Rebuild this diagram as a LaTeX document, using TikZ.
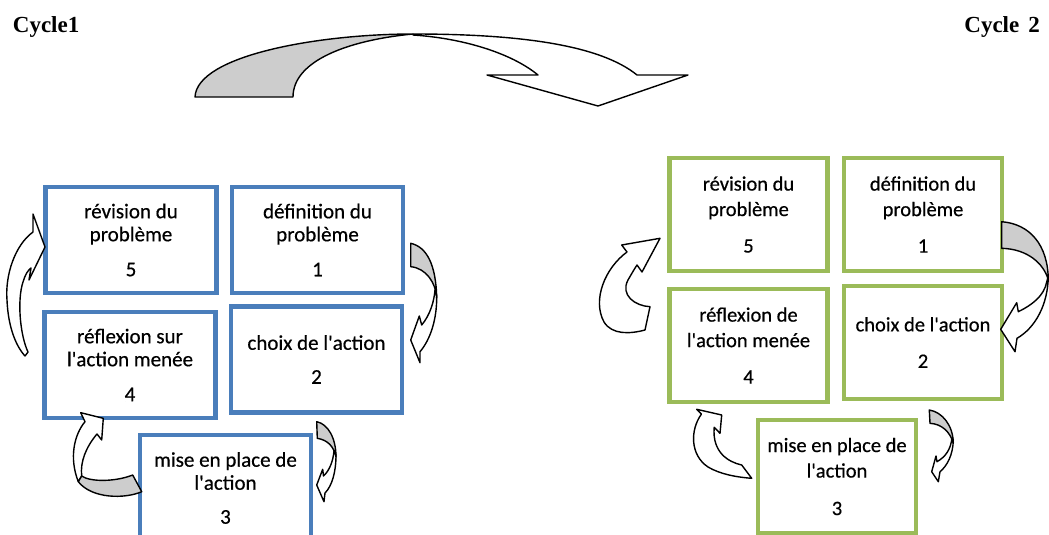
\documentclass[tikz,border=0pt]{standalone}
\usepackage{fontspec}
\setmainfont{Carlito}
\newfontfamily\boxfont{Carlito}[FakeBold=0.5]
\newfontfamily\cyclefont{Liberation Serif}
\definecolor{blueb}{RGB}{74,126,187}
\definecolor{greenb}{RGB}{155,187,89}
\definecolor{shade}{RGB}{205,205,205}
\begin{document}
\begin{tikzpicture}[x=1pt,y=-1pt,
  lbox/.style={draw=blueb, line width=4.3pt, minimum width=171pt, minimum height=106pt, inner sep=0pt, align=center, font=\boxfont\fontsize{21}{23}\selectfont},
  rbox/.style={draw=greenb, line width=4.3pt, minimum width=158pt, minimum height=113pt, inner sep=0pt, align=center, font=\boxfont\fontsize{20.5}{25.5}\selectfont},
  cyc/.style={inner sep=0pt, font=\cyclefont\bfseries\fontsize{23}{26}\selectfont},
  warrow/.style={draw=black, line width=1.4pt, line join=round, fill=white},
  sarrow/.style={warrow, fill=shade}]
\clip (0,0) rectangle (1049,535);
\fill[white] (0,0) rectangle (1049,535);

% titles
\node[cyc, anchor=base west] (c1) at (12.7,33) {Cycle1};
\node[cyc, anchor=base east] (c2) at (1040,33) {Cycle\hspace{9pt}2};

% big top arrow
\path[warrow] (413,34) .. controls (520,34) and (600,45) .. (637,75) -- (688,75) -- (598,106) -- (487,75) -- (538,75) .. controls (510,52) and (460,38) .. (413,35) -- cycle;
\path[sarrow] (195,97) .. controls (197,55) and (320,34) .. (413,34) .. controls (350,40) and (293,60) .. (293,97) -- cycle;

% left cycle boxes
\node[lbox] (l5) at (131,240) {révision du\\problème\\[12pt]5};
\node[lbox] (l1) at (317.5,240) {définition du\\problème\\[12pt]1};
\node[lbox] (l4) at (130,365) {réflexion sur\\l\textquotesingle action menée\\[12pt]4};
\node[lbox] (l2) at (316.5,359.5) {choix de l\textquotesingle action\\[11pt]2};
\node[lbox] (l3) at (225.5,488) {mise en place de\\l\textquotesingle action\\[11pt]3};

% right cycle boxes
\node[rbox] (r5) at (748.5,214.5) {révision du\\problème\\[11pt]5};
\node[rbox] (r1) at (923,214.5) {définition du\\problème\\[11pt]1};
\node[rbox] (r4) at (748.5,345.5) {réflexion de\\l\textquotesingle action menée\\[11pt]4};
\node[rbox] (r2) at (923,342.5) {choix de l\textquotesingle action\\[11pt]2};
\node[rbox] (r3) at (837,476.5) {mise en place de\\l\textquotesingle action\\[12pt]3};

% left: arrow 4 -> 5
\path[warrow] (45,247) -- (33,214) -- (33,232) .. controls (15,245) and (5,275) .. (7,300) .. controls (8,325) and (15,345) .. (25,356) -- (28,352) .. controls (20,335) and (17,300) .. (23,282) .. controls (25,275) and (28,270) .. (31,268) -- (29,280) -- cycle;
% left: arrow 1 -> 2
\path[warrow] (436.7,296) .. controls (437,320) and (430,340) .. (420,351.7) -- (420,362.7) -- (410.7,340) -- (419.3,316) -- (421.7,325) .. controls (430,315) and (434,302) .. (435,290) -- cycle;
\path[sarrow] (410.7,243.3) .. controls (427,247) and (436,265) .. (436.7,298) .. controls (436,283) and (426,268) .. (410.7,266.7) -- cycle;
% left: arrow 2 -> 3
\path[warrow] (336,455) .. controls (336,472) and (332,486) .. (325,493) -- (324,501.7) -- (316.7,485) -- (322.7,469.3) -- (323.5,476) .. controls (329,471) and (333,462) .. (334,451) -- cycle;
\path[sarrow] (316.7,421.7) .. controls (328,424) and (336,438) .. (336,457) .. controls (334,447) and (328,440) .. (317.3,438.3) -- cycle;
% left: arrow 3 -> 4
\path[warrow] (103.3,418.3) -- (80.7,412.7) -- (85,421.7) .. controls (74,435) and (69,458) .. (78.3,481.7) -- (81.7,476) .. controls (80,462) and (86,447) .. (97,434) -- (101.7,440) -- cycle;
\path[sarrow] (81.7,476) .. controls (90,482) and (115,482) .. (132.7,475) -- (141.7,491.7) .. controls (125,499) and (92,499) .. (78.3,481.7) -- cycle;

% right: arrow 4 -> 5
\path[warrow] (660,238.3) -- (621.7,245) -- (627,252) .. controls (605,268) and (592,300) .. (604,322) .. controls (612,335) and (630,334) .. (645,330) -- (650,306.7) .. controls (635,306) and (620,295) .. (628,280) .. controls (632,273) and (635,268) .. (637,265) -- (642,272) -- cycle;
% right: arrow 1 -> 2
\path[warrow] (1048.3,276) .. controls (1048,305) and (1035,328) .. (1017,338.3) -- (1015,351.7) -- (1000.7,329.3) -- (1016.7,302.7) -- (1018.3,311.7) .. controls (1032,305) and (1044,296) .. (1046.7,282) -- cycle;
\path[sarrow] (1001.7,221.7) .. controls (1030,224) and (1048,245) .. (1048.3,280) .. controls (1044,264) and (1028,249) .. (1001.7,248.3) -- cycle;
% right: arrow 2 -> 3
\path[warrow] (953.3,440) .. controls (953,455) and (947,466) .. (940,471.7) -- (938.3,481.7) -- (931.7,471.7) -- (936,456) -- (937,461.7) .. controls (945,457) and (951,450) .. (952,437) -- cycle;
\path[sarrow] (929.3,410) .. controls (942,412) and (953,425) .. (953.3,443) .. controls (950,432) and (942,424) .. (930,423.3) -- cycle;
% right: arrow 3 -> 4
\path[warrow] (721.7,415) -- (696.7,409.3) -- (701.4,414.1) .. controls (690,430) and (690,455) .. (708,467) .. controls (720,474) and (735,477) .. (751.7,478.3) -- (741.7,465) .. controls (728,462) and (712,452) .. (714.2,427.3) -- (720,433.3) -- cycle;
\end{tikzpicture}
\end{document}
